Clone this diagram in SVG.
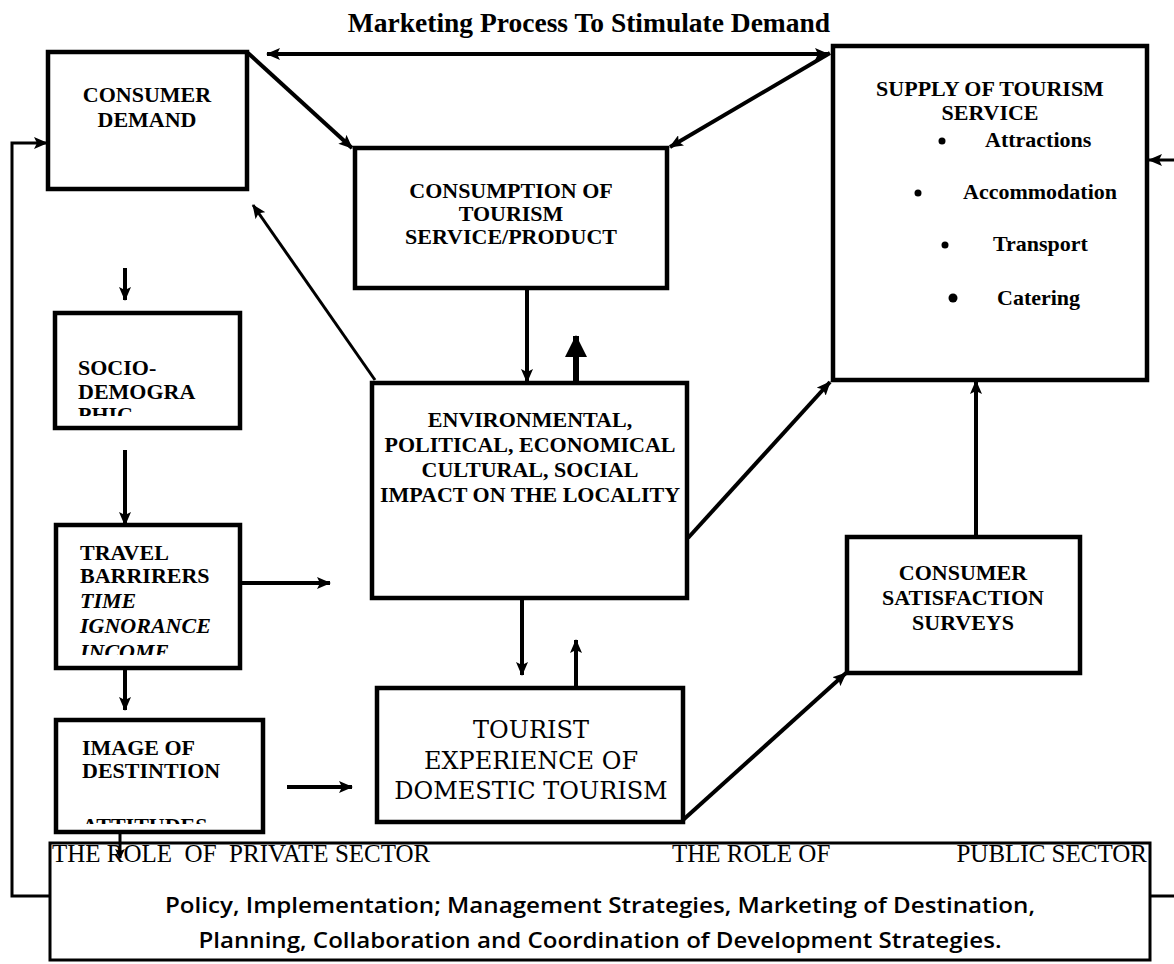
<svg xmlns="http://www.w3.org/2000/svg" width="1174" height="964" viewBox="0 0 1174 964">
<style>
.box{fill:#fff;stroke:#000;stroke-width:4.5}
.bb{fill:#fff;stroke:#000;stroke-width:3}
.t{font-family:"Liberation Serif","Times New Roman",serif;font-weight:bold;font-size:22px;fill:#000}
.c{text-anchor:middle}
.it{font-style:italic}
.cam{font-family:"DejaVu Serif","Liberation Serif",serif;font-size:24px;fill:#000;text-anchor:middle}
.role{font-family:"Liberation Serif","Times New Roman",serif;font-size:25px;fill:#000}
.pol{font-family:"Open Sans","Noto Sans",sans-serif;font-weight:600;font-size:21px;fill:#000;text-anchor:middle}
.ln{fill:none;stroke:#000;stroke-width:4}
.thin{fill:none;stroke:#000;stroke-width:3}
.fat{fill:none;stroke:#000;stroke-width:6}
</style>
<defs>
<marker id="ah" viewBox="0 0 14 12" refX="13" refY="6" markerWidth="14" markerHeight="12" markerUnits="userSpaceOnUse" orient="auto-start-reverse">
<path d="M0,0 L14,6 L0,12 L3,6 z" fill="#000"/>
</marker>
<marker id="big" viewBox="0 0 22 22" refX="21" refY="11" markerWidth="22" markerHeight="22" markerUnits="userSpaceOnUse" orient="auto">
<path d="M0,0 L22,11 L0,22 z" fill="#000"/>
</marker>
<marker id="sm" viewBox="0 0 10 10" refX="9" refY="5" markerWidth="10" markerHeight="10" markerUnits="userSpaceOnUse" orient="auto">
<path d="M0,0 L10,5 L0,10 L2,5 z" fill="#000"/>
</marker>
<clipPath id="cSocio"><rect x="55" y="313" width="185" height="103"/></clipPath>
<clipPath id="cTravel"><rect x="56" y="525" width="184" height="130"/></clipPath>
<clipPath id="cImage"><rect x="56" y="720" width="207" height="104"/></clipPath>
</defs>

<text class="t c" x="589" y="32" style="font-size:27.5px">Marketing Process To Stimulate Demand</text>

<g id="connectors">
<line class="ln" x1="267" y1="54" x2="828" y2="54" marker-start="url(#ah)" marker-end="url(#ah)"/>
<line class="ln" x1="248" y1="53" x2="352" y2="148" marker-end="url(#ah)"/>
<line class="ln" x1="830" y1="53" x2="670" y2="147" marker-end="url(#ah)"/>
<line class="thin" x1="375" y1="380" x2="253" y2="205" marker-end="url(#ah)"/>
<line class="ln" x1="527" y1="289" x2="527" y2="382" marker-end="url(#ah)"/>
<line class="fat" x1="576" y1="415" x2="576" y2="336" marker-end="url(#big)"/>
<line class="ln" x1="688" y1="538" x2="830" y2="382" marker-end="url(#ah)"/>
<line class="ln" x1="522" y1="599" x2="522" y2="675" marker-end="url(#ah)"/>
<line class="ln" x1="576" y1="702" x2="576" y2="640" marker-end="url(#ah)"/>
<line class="ln" x1="683" y1="820" x2="846" y2="673" marker-end="url(#ah)"/>
<line class="ln" x1="976" y1="537" x2="976" y2="381" marker-end="url(#ah)"/>
<line class="ln" x1="125" y1="268" x2="125" y2="300" marker-end="url(#ah)"/>
<line class="ln" x1="125" y1="450" x2="125" y2="525" marker-end="url(#ah)"/>
<line class="ln" x1="241" y1="583" x2="330" y2="583" marker-end="url(#ah)"/>
<line class="ln" x1="125" y1="668" x2="125" y2="710" marker-end="url(#ah)"/>
<line class="ln" x1="287" y1="787" x2="352" y2="787" marker-end="url(#ah)"/>
<line class="thin" x1="1174" y1="160" x2="1149" y2="160" marker-end="url(#ah)"/>
<polyline class="thin" points="50,896 12,896 12,143 47,143" marker-end="url(#ah)"/>
<line class="thin" x1="1150" y1="896" x2="1174" y2="896"/>
</g>

<g id="consumer-demand">
<rect class="box" x="48" y="52" width="199" height="137"/>
<text class="t c" x="147" y="102">CONSUMER</text>
<text class="t c" x="147" y="127">DEMAND</text>
</g>

<g id="consumption">
<rect class="box" x="355" y="148" width="312" height="140"/>
<text class="t c" x="511" y="198">CONSUMPTION OF</text>
<text class="t c" x="511" y="221">TOURISM</text>
<text class="t c" x="511" y="244">SERVICE/PRODUCT</text>
</g>

<g id="supply">
<rect class="box" x="833" y="46" width="314" height="334"/>
<text class="t c" x="990" y="96">SUPPLY OF TOURISM</text>
<text class="t c" x="990" y="120">SERVICE</text>
<circle cx="942" cy="141" r="3.5"/>
<text class="t" x="985" y="147">Attractions</text>
<circle cx="918" cy="193" r="3.5"/>
<text class="t" x="963" y="199">Accommodation</text>
<circle cx="945" cy="245" r="3.5"/>
<text class="t" x="993" y="251">Transport</text>
<circle cx="953" cy="298" r="4.5"/>
<text class="t" x="997" y="305">Catering</text>
</g>

<g id="socio">
<rect class="box" x="55" y="313" width="185" height="115"/>
<g clip-path="url(#cSocio)">
<text class="t" x="78" y="375">SOCIO-</text>
<text class="t" x="78" y="399">DEMOGRA</text>
<text class="t" x="78" y="422">PHIC</text>
</g>
</g>

<g id="travel">
<rect class="box" x="56" y="525" width="184" height="143"/>
<g clip-path="url(#cTravel)">
<text class="t" x="80" y="560">TRAVEL</text>
<text class="t" x="80" y="583">BARRIRERS</text>
<text class="t it" x="80" y="608">TIME</text>
<text class="t it" x="80" y="633">IGNORANCE</text>
<text class="t it" x="80" y="659">INCOME</text>
</g>
</g>

<g id="image">
<rect class="box" x="56" y="720" width="207" height="112"/>
<g clip-path="url(#cImage)">
<text class="t" x="82" y="755">IMAGE OF</text>
<text class="t" x="82" y="778">DESTINTION</text>
<text class="t" x="82" y="833">ATTITUDES</text>
</g>
</g>

<g id="environmental">
<rect class="box" x="372" y="383" width="315" height="215"/>
<text class="t c" x="530" y="427">ENVIRONMENTAL,</text>
<text class="t c" x="530" y="452">POLITICAL, ECONOMICAL</text>
<text class="t c" x="530" y="477">CULTURAL, SOCIAL</text>
<text class="t c" x="530" y="502">IMPACT ON THE LOCALITY</text>
</g>

<g id="tourist">
<rect class="box" x="377" y="688" width="306" height="134"/>
<text class="cam" x="531" y="738">TOURIST</text>
<text class="cam" x="531" y="769">EXPERIENCE OF</text>
<text class="cam" x="531" y="799">DOMESTIC TOURISM</text>
</g>

<g id="satisfaction">
<rect class="box" x="847" y="537" width="233" height="136"/>
<text class="t c" x="963" y="580">CONSUMER</text>
<text class="t c" x="963" y="605">SATISFACTION</text>
<text class="t c" x="963" y="630">SURVEYS</text>
</g>

<g id="roles">
<rect class="bb" x="50" y="843" width="1100" height="117"/>
<text class="role" x="52" y="862" xml:space="preserve">THE ROLE  OF  PRIVATE SECTOR</text>
<text class="role" x="672" y="862">THE ROLE OF</text>
<text class="role" x="1147" y="862" text-anchor="end">PUBLIC SECTOR</text>
<text class="pol" x="600" y="913" textLength="870" lengthAdjust="spacingAndGlyphs">Policy, Implementation; Management Strategies, Marketing of Destination,</text>
<text class="pol" x="600" y="948" textLength="803" lengthAdjust="spacingAndGlyphs">Planning, Collaboration and Coordination of Development Strategies.</text>
</g>
<line class="thin" x1="120" y1="832" x2="120" y2="858" marker-end="url(#sm)"/>
</svg>
